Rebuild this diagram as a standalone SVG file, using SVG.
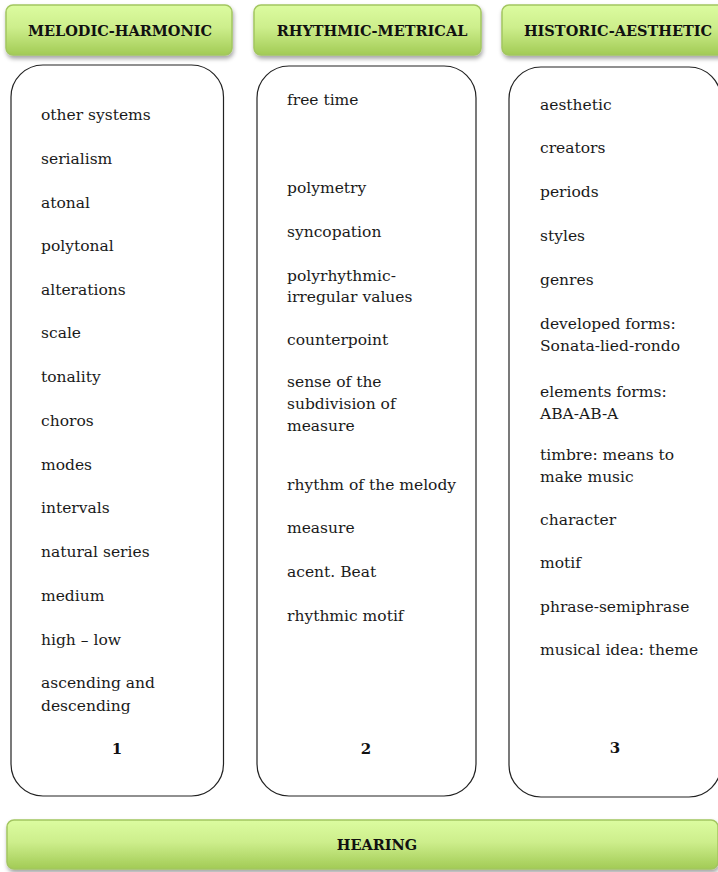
<svg xmlns="http://www.w3.org/2000/svg" width="718" height="872" viewBox="0 0 718 872">
  <defs>
    <linearGradient id="green" x1="0" y1="0" x2="0" y2="1">
      <stop offset="0" stop-color="#dcfca0"/>
      <stop offset="0.45" stop-color="#cdee8c"/>
      <stop offset="1" stop-color="#a2cb55"/>
    </linearGradient>
    <filter id="shadow" x="-10%" y="-30%" width="120%" height="170%">
      <feDropShadow dx="1" dy="3" stdDeviation="2.2" flood-color="#000" flood-opacity="0.35"/>
    </filter>
  </defs>
  <style>
    .head { fill: url(#green); stroke: #a3c660; stroke-width: 1.5; filter: url(#shadow); }
    .col { fill: #fff; stroke: #222; stroke-width: 1.2; }
    .ht { font-family: "DejaVu Serif", "Liberation Serif", serif; font-weight: bold; font-size: 14.5px; fill: #111; text-anchor: middle; }
    .t { font-family: "DejaVu Serif", "Liberation Serif", serif; font-size: 15.5px; fill: #1a1a1a; }
    .n { font-family: "DejaVu Serif", "Liberation Serif", serif; font-weight: bold; font-size: 15px; fill: #111; text-anchor: middle; }
  </style>
  <rect width="718" height="872" fill="#fff"/>

  <!-- category headers -->
  <g id="hdr-melodic">
    <rect class="head" x="6" y="5" width="226" height="50" rx="7"/>
    <text class="ht" x="120" y="36">MELODIC-HARMONIC</text>
  </g>
  <g id="hdr-rhythmic">
    <rect class="head" x="254" y="5" width="227" height="50" rx="7"/>
    <text class="ht" x="372" y="36">RHYTHMIC-METRICAL</text>
  </g>
  <g id="hdr-historic">
    <rect class="head" x="502" y="5" width="234" height="50" rx="7"/>
    <text class="ht" x="618" y="36">HISTORIC-AESTHETIC</text>
  </g>

  <!-- column 1 -->
  <g id="col-melodic">
    <rect class="col" x="11" y="65" width="212.5" height="731" rx="32"/>
    <text class="t" x="41" y="120">other systems</text>
    <text class="t" x="41" y="164">serialism</text>
    <text class="t" x="41" y="208">atonal</text>
    <text class="t" x="41" y="251">polytonal</text>
    <text class="t" x="41" y="295">alterations</text>
    <text class="t" x="41" y="338">scale</text>
    <text class="t" x="41" y="382">tonality</text>
    <text class="t" x="41" y="426">choros</text>
    <text class="t" x="41" y="470">modes</text>
    <text class="t" x="41" y="513">intervals</text>
    <text class="t" x="41" y="557">natural  series</text>
    <text class="t" x="41" y="601">medium</text>
    <text class="t" x="41" y="645">high – low</text>
    <text class="t" x="41" y="688">ascending and</text>
    <text class="t" x="41" y="711">descending</text>
    <text class="n" x="117" y="754">1</text>
  </g>

  <!-- column 2 -->
  <g id="col-rhythmic">
    <rect class="col" x="257" y="66" width="219" height="730" rx="32"/>
    <text class="t" x="287" y="105">free time</text>
    <text class="t" x="287" y="193">polymetry</text>
    <text class="t" x="287" y="237">syncopation</text>
    <text class="t" x="287" y="281">polyrhythmic-</text>
    <text class="t" x="287" y="302">irregular values</text>
    <text class="t" x="287" y="345">counterpoint</text>
    <text class="t" x="287" y="387">sense of the</text>
    <text class="t" x="287" y="409">subdivision of</text>
    <text class="t" x="287" y="431">measure</text>
    <text class="t" x="287" y="490">rhythm of the melody</text>
    <text class="t" x="287" y="533">measure</text>
    <text class="t" x="287" y="577">acent. Beat</text>
    <text class="t" x="287" y="621">rhythmic motif</text>
    <text class="n" x="366" y="754">2</text>
  </g>

  <!-- column 3 -->
  <g id="col-historic">
    <rect class="col" x="509" y="67" width="212" height="730" rx="32"/>
    <text class="t" x="540" y="110">aesthetic</text>
    <text class="t" x="540" y="153">creators</text>
    <text class="t" x="540" y="197">periods</text>
    <text class="t" x="540" y="241">styles</text>
    <text class="t" x="540" y="285">genres</text>
    <text class="t" x="540" y="329">developed forms:</text>
    <text class="t" x="540" y="351">Sonata-lied-rondo</text>
    <text class="t" x="540" y="397">elements forms:</text>
    <text class="t" x="540" y="419">ABA-AB-A</text>
    <text class="t" x="540" y="460">timbre: means to</text>
    <text class="t" x="540" y="482">make music</text>
    <text class="t" x="540" y="525">character</text>
    <text class="t" x="540" y="568">motif</text>
    <text class="t" x="540" y="612">phrase-semiphrase</text>
    <text class="t" x="540" y="655">musical idea: theme</text>
    <text class="n" x="615" y="753">3</text>
  </g>

  <!-- base bar -->
  <g id="hearing">
    <rect class="head" x="7" y="820" width="711" height="49" rx="7"/>
    <text class="ht" x="377" y="850">HEARING</text>
  </g>

  <g id="connectors"/>
</svg>
